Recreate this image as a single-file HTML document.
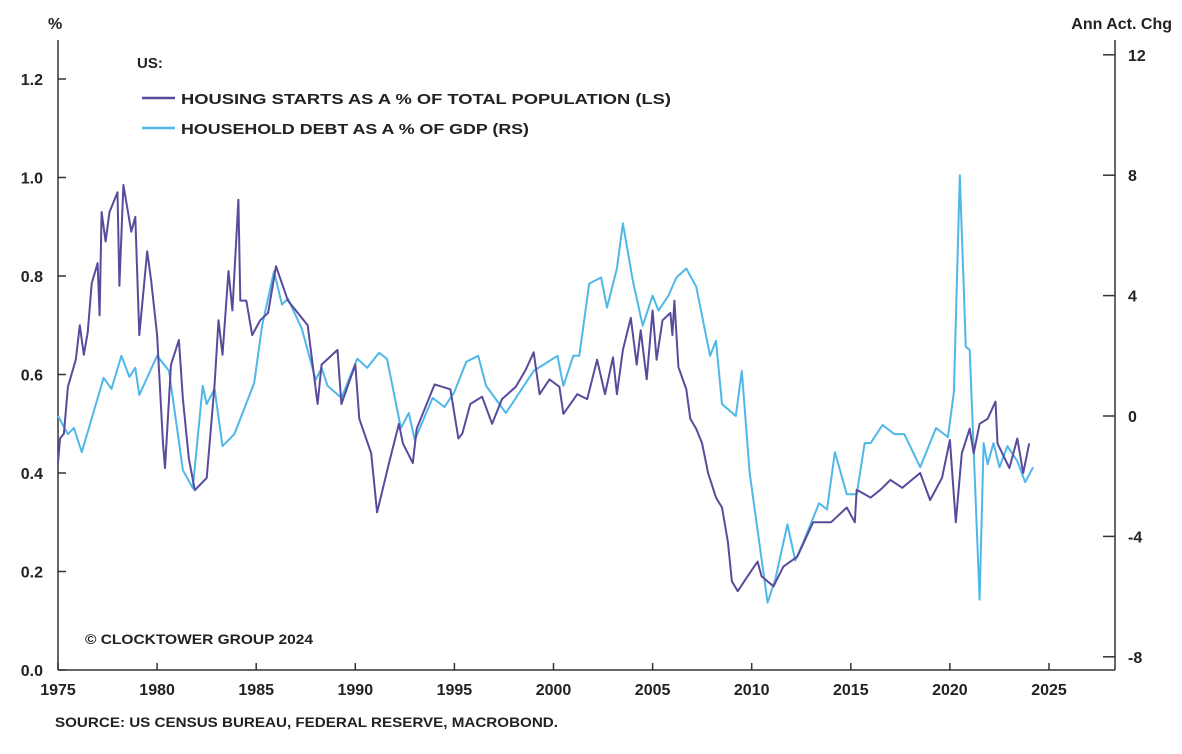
<!DOCTYPE html>
<html><head><meta charset="utf-8"><style>
html,body{margin:0;padding:0;background:#fff;}
svg{display:block;font-family:"Liberation Sans",sans-serif;}
</style></head><body>
<svg id="chart" width="1182" height="754" viewBox="0 0 1182 754" xmlns="http://www.w3.org/2000/svg">
<g id="axes"></g>
<g id="series"></g>
<g>
<text x="137" y="68" font-size="15" font-weight="bold" fill="#222">US:</text>
<line x1="142" y1="98" x2="175" y2="98" stroke="#5a4a9c" stroke-width="2.5"/>
<text x="181" y="104" font-size="15" font-weight="bold" fill="#222" textLength="490" lengthAdjust="spacingAndGlyphs">HOUSING STARTS AS A % OF TOTAL POPULATION (LS)</text>
<line x1="142" y1="128" x2="175" y2="128" stroke="#4fb8e8" stroke-width="2.5"/>
<text x="181" y="134" font-size="15" font-weight="bold" fill="#222" textLength="348" lengthAdjust="spacingAndGlyphs">HOUSEHOLD DEBT AS A % OF GDP (RS)</text>
</g>
<text x="85" y="644" font-size="14" font-weight="bold" fill="#222" textLength="228" lengthAdjust="spacingAndGlyphs">© CLOCKTOWER GROUP 2024</text>
<text x="55" y="727" font-size="14" font-weight="bold" fill="#222" textLength="503" lengthAdjust="spacingAndGlyphs">SOURCE: US CENSUS BUREAU, FEDERAL RESERVE, MACROBOND.</text>
<text x="48" y="29" font-size="16" font-weight="bold" fill="#222">%</text>
<text x="1172" y="29" font-size="16" font-weight="bold" fill="#222" text-anchor="end">Ann Act. Chg</text>
</svg>
<script>
const xTicks = [1975,1980,1985,1990,1995,2000,2005,2010,2015,2020,2025];
const leftTicks = [0,0.2,0.4,0.6,0.8,1.0,1.2];
const leftTickLabels = ["0.0","0.2","0.4","0.6","0.8","1.0","1.2"];
const rightTicks = [-8,-4,0,4,8,12];
const rightTickLabels = ["-8","-4","0","4","8","12"];
const housingYears = [1975.0,1975.1,1975.3,1975.5,1975.9,1976.1,1976.3,1976.5,1976.7,1977.0,1977.1,1977.2,1977.4,1977.6,1978.0,1978.1,1978.3,1978.7,1978.9,1979.1,1979.5,1979.7,1980.0,1980.3,1980.4,1980.7,1981.1,1981.3,1981.6,1981.9,1982.5,1982.9,1983.1,1983.3,1983.6,1983.8,1984.1,1984.2,1984.5,1984.8,1985.2,1985.6,1986.0,1986.6,1987.6,1988.1,1988.3,1989.1,1989.3,1990.0,1990.2,1990.8,1991.1,1991.7,1992.2,1992.4,1992.9,1993.1,1994.0,1994.8,1995.2,1995.4,1995.8,1996.4,1996.9,1997.4,1998.1,1998.6,1999.0,1999.3,1999.8,2000.3,2000.5,2001.2,2001.7,2002.2,2002.6,2003.0,2003.2,2003.5,2003.9,2004.2,2004.4,2004.7,2005.0,2005.2,2005.5,2005.9,2006.0,2006.1,2006.3,2006.7,2006.9,2007.2,2007.5,2007.8,2008.2,2008.5,2008.8,2009.0,2009.3,2009.7,2010.3,2010.5,2011.1,2011.6,2012.3,2013.1,2014.0,2014.8,2015.2,2015.3,2016.0,2016.5,2017.0,2017.6,2018.2,2018.5,2019.0,2019.6,2020.0,2020.3,2020.6,2021.0,2021.2,2021.5,2021.9,2022.3,2022.4,2023.0,2023.4,2023.7,2024.0];
const housingValues = [.42,.47,.48,.575,.63,.70,.64,.685,.785,.826,.72,.93,.87,.93,.97,.78,.985,.89,.92,.68,.85,.79,.68,.46,.41,.62,.67,.55,.43,.365,.39,.58,.71,.64,.81,.73,.955,.75,.75,.68,.71,.725,.82,.75,.70,.54,.62,.65,.54,.62,.51,.44,.32,.42,.50,.46,.42,.49,.58,.57,.47,.48,.54,.555,.50,.55,.575,.61,.645,.56,.59,.575,.52,.56,.55,.63,.56,.635,.56,.65,.715,.62,.69,.59,.73,.63,.71,.725,.68,.75,.615,.57,.51,.49,.46,.40,.35,.33,.26,.18,.16,.185,.22,.19,.17,.21,.23,.30,.30,.33,.30,.366,.35,.366,.386,.37,.39,.40,.345,.39,.467,.30,.44,.49,.44,.50,.51,.545,.46,.41,.47,.40,.46];
const debtYears = [1975.0,1975.5,1975.8,1976.2,1977.3,1977.7,1978.2,1978.6,1978.9,1979.1,1980.0,1980.6,1981.3,1981.8,1982.3,1982.5,1982.9,1983.3,1983.9,1984.9,1985.3,1985.9,1986.3,1986.6,1987.3,1988.0,1988.3,1988.6,1989.3,1990.1,1990.6,1991.2,1991.6,1992.3,1992.7,1993.0,1993.9,1994.5,1995.0,1995.6,1996.2,1996.6,1997.6,1999.0,2000.2,2000.5,2001.0,2001.3,2001.8,2002.4,2002.7,2003.2,2003.5,2004.0,2004.5,2005.0,2005.3,2005.8,2006.2,2006.7,2007.2,2007.9,2008.2,2008.5,2009.2,2009.5,2009.9,2010.8,2011.2,2011.8,2012.2,2012.6,2013.4,2013.8,2014.2,2014.8,2015.3,2015.7,2016.0,2016.6,2017.2,2017.7,2018.5,2019.3,2019.9,2020.2,2020.5,2020.8,2021.0,2021.5,2021.7,2021.9,2022.2,2022.5,2022.9,2023.4,2023.8,2024.2];
const debtValues = [0,-0.6,-0.4,-1.2,1.27,0.9,2.0,1.3,1.6,0.7,2.0,1.5,-1.8,-2.4,1.0,0.4,0.9,-1.0,-0.6,1.1,3.0,4.8,3.7,3.9,2.9,1.2,1.6,1.0,0.6,1.9,1.6,2.1,1.9,-0.4,0.1,-0.8,0.6,0.3,0.8,1.8,2.0,1.0,0.1,1.5,2.0,1.0,2.0,2.0,4.4,4.6,3.6,4.9,6.4,4.5,3.0,4.0,3.5,4.0,4.6,4.9,4.3,2.0,2.5,0.4,0,1.5,-1.9,-6.2,-5.4,-3.6,-4.8,-4.2,-2.9,-3.1,-1.2,-2.6,-2.6,-0.9,-0.9,-0.3,-0.6,-0.6,-1.7,-0.4,-0.7,0.8,8.0,2.3,2.2,-6.1,-0.9,-1.6,-0.9,-1.7,-1.0,-1.5,-2.2,-1.7];

const NS = "http://www.w3.org/2000/svg";
const X0 = 58, X1 = 1115, Y0 = 670;
function xScale(yr){ return X0 + (yr - 1975) * 19.82; }
function yLeft(v){ return Y0 - v * 492.5; }
function yRight(v){ return 416 - v * 30.1; }
function mk(tag, attrs, parent){ const e = document.createElementNS(NS, tag); for (const k in attrs) e.setAttribute(k, attrs[k]); parent.appendChild(e); return e; }
const axes = document.getElementById('axes');
const series = document.getElementById('series');

let e;
e = mk('line', {x1:X0, y1:40, x2:X0, y2:Y0, stroke:'#333', 'stroke-width':1.5}, axes);


e = mk('line', {x1:X1, y1:40, x2:X1, y2:Y0, stroke:'#333', 'stroke-width':1.5}, axes);


e = mk('line', {x1:X0, y1:Y0, x2:X1, y2:Y0, stroke:'#333', 'stroke-width':1.5}, axes);



xTicks.forEach(function(t){
  const x = xScale(t);
  const tk = mk('line', {x1:x, y1:Y0-7, x2:x, y2:Y0, stroke:'#333', 'stroke-width':1.5}, axes);
  
  
  const lb = mk('text', {x:x, y:Y0+25, 'font-size':16, 'font-weight':'bold', fill:'#222', 'text-anchor':'middle'}, axes);
  lb.textContent = t;
  
  
});
leftTicks.forEach(function(t, i){
  const y = yLeft(t);
  const tk = mk('line', {x1:X0, y1:y, x2:X0+8, y2:y, stroke:'#333', 'stroke-width':1.5}, axes);
  
  
  const lb = mk('text', {x:43, y:y+6, 'font-size':16, 'font-weight':'bold', fill:'#222', 'text-anchor':'end'}, axes);
  lb.textContent = leftTickLabels[i];
  
  
});
rightTicks.forEach(function(t, i){
  const y = yRight(t);
  const tk = mk('line', {x1:X1-12, y1:y, x2:X1, y2:y, stroke:'#333', 'stroke-width':1.5}, axes);
  
  
  const lb = mk('text', {x:1128, y:y+6, 'font-size':16, 'font-weight':'bold', fill:'#222'}, axes);
  lb.textContent = rightTickLabels[i];
  
  
});

function pathFrom(xs, vs, yf){ return xs.map(function(yr, i){ return (i ? 'L' : 'M') + xScale(yr).toFixed(1) + ',' + yf(vs[i]).toFixed(1); }).join(''); }
e = mk('path', {d:pathFrom(debtYears, debtValues, yRight), fill:'none', stroke:'#4fb8e8', 'stroke-width':2, 'stroke-linejoin':'round'}, series);


e = mk('path', {d:pathFrom(housingYears, housingValues, yLeft), fill:'none', stroke:'#5a4a9c', 'stroke-width':2, 'stroke-linejoin':'round'}, series);


</script>
</body></html>
